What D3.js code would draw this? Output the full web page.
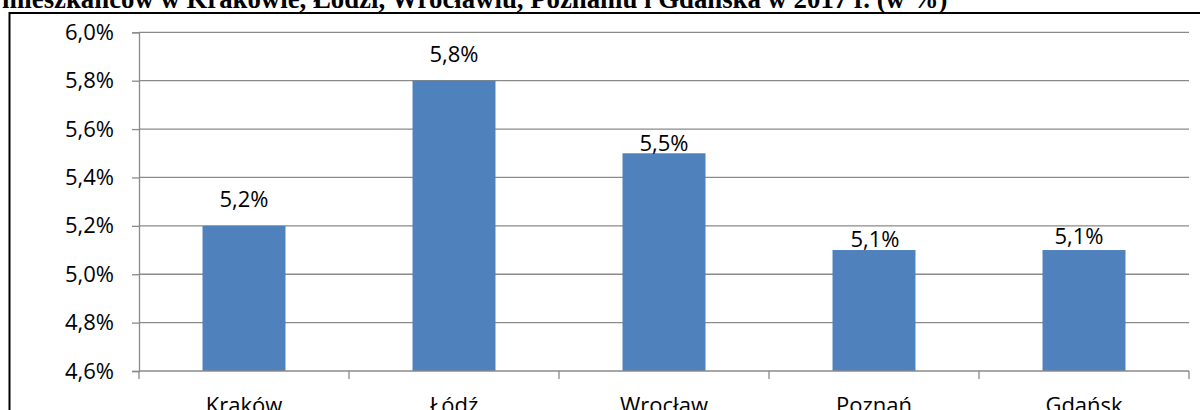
<!DOCTYPE html>
<html><head><meta charset="utf-8">
<script src="https://cdn.jsdelivr.net/npm/d3@7"></script>
<style>body{margin:0;background:#fff;overflow:hidden} svg{display:block}</style>
</head><body>
<svg id="c" width="1200" height="410"></svg>
<script>
const titleText = "mieszkańców w Krakowie, Łodzi, Wrocławiu, Poznaniu i Gdańska w 2017 r. (w %)";
const categories = ["Kraków", "Łódź", "Wrocław", "Poznań", "Gdańsk"];
const values = [5.2, 5.8, 5.5, 5.1, 5.1];
const yTicks = [4.6, 4.8, 5.0, 5.2, 5.4, 5.6, 5.8, 6.0];
const yDomain = [4.6, 6.0];

const fmt = d => d.toFixed(1).replace('.', ',') + '%';
const svg = d3.select('#c');
const FONT = "'Open Sans', sans-serif";
const GRID = '#8a8a8a';

// title (cut at the top)
const t = svg.append('text').attr('x', 2).attr('y', 8)
  .attr('font-family', "'Liberation Serif', 'Times New Roman', serif")
  .attr('font-weight', 'bold').attr('font-size', 20).attr('fill', '#000')
  .text(titleText);
const w20 = t.node().getComputedTextLength();
t.attr('font-size', 20 * 946 / w20);

// frame
svg.append('rect').attr('x', 9.5).attr('y', 13).attr('width', 1300).attr('height', 600)
  .attr('fill', 'none').attr('stroke', '#000').attr('stroke-width', 2);

const plot = {left: 139, right: 1189, top: 32.3, bottom: 371};
const y = d3.scaleLinear().domain(yDomain).range([plot.bottom, plot.top]);
const x = d3.scaleBand().domain(categories).range([plot.left, plot.right])
  .paddingInner(0.605).paddingOuter(0.3025);

// gridlines
svg.append('g').selectAll('line').data(yTicks.slice(1)).join('line')
  .attr('x1', plot.left).attr('x2', plot.right)
  .attr('y1', d => y(d)).attr('y2', d => y(d))
  .attr('stroke', GRID).attr('stroke-width', 1.3);

// bars
svg.append('g').selectAll('rect').data(values).join('rect')
  .attr('x', (d, i) => x(categories[i]))
  .attr('width', x.bandwidth())
  .attr('y', d => y(d))
  .attr('height', d => y(yDomain[0]) - y(d))
  .attr('fill', '#4F81BD');

// y axis
const ya = svg.append('g').attr('transform', `translate(${plot.left},0)`)
  .call(d3.axisLeft(y).tickValues(yTicks).tickFormat(fmt).tickSize(7).tickPadding(18));
ya.select('.domain').attr('stroke', GRID).attr('stroke-width', 1.3);
ya.selectAll('.tick line').attr('stroke', GRID).attr('stroke-width', 1.3);
ya.selectAll('.tick text').attr('font-family', FONT).attr('font-size', 22).attr('fill', '#000');

// x axis
const xa = svg.append('g').attr('transform', `translate(0,${plot.bottom})`);
xa.append('line').attr('x1', plot.left).attr('x2', plot.right).attr('y1', 0).attr('y2', 0)
  .attr('stroke', GRID).attr('stroke-width', 1.3);
const bounds = d3.range(categories.length + 1).map(i => plot.left + i * x.step());
xa.selectAll('line.tk').data(bounds).join('line').attr('class', 'tk')
  .attr('x1', d => d).attr('x2', d => d).attr('y1', 0).attr('y2', 8)
  .attr('stroke', GRID).attr('stroke-width', 1.3);
xa.selectAll('text').data(categories).join('text')
  .attr('x', d => x(d) + x.bandwidth() / 2).attr('y', 42)
  .attr('text-anchor', 'middle').attr('font-family', FONT).attr('font-size', 22).attr('fill', '#000')
  .text(d => d);

// data labels (gap above bar top, per label as placed in the original)
const labelGap = [18.5, 19, 2.5, 3, 6.5];
const labelShift = [0, 0, 0, 1, -5];
svg.append('g').selectAll('text').data(values).join('text')
  .attr('x', (d, i) => x(categories[i]) + x.bandwidth() / 2 + labelShift[i])
  .attr('y', (d, i) => y(d) - labelGap[i])
  .attr('text-anchor', 'middle').attr('font-family', FONT).attr('font-size', 22).attr('fill', '#000')
  .text(fmt);
</script>
</body></html>
